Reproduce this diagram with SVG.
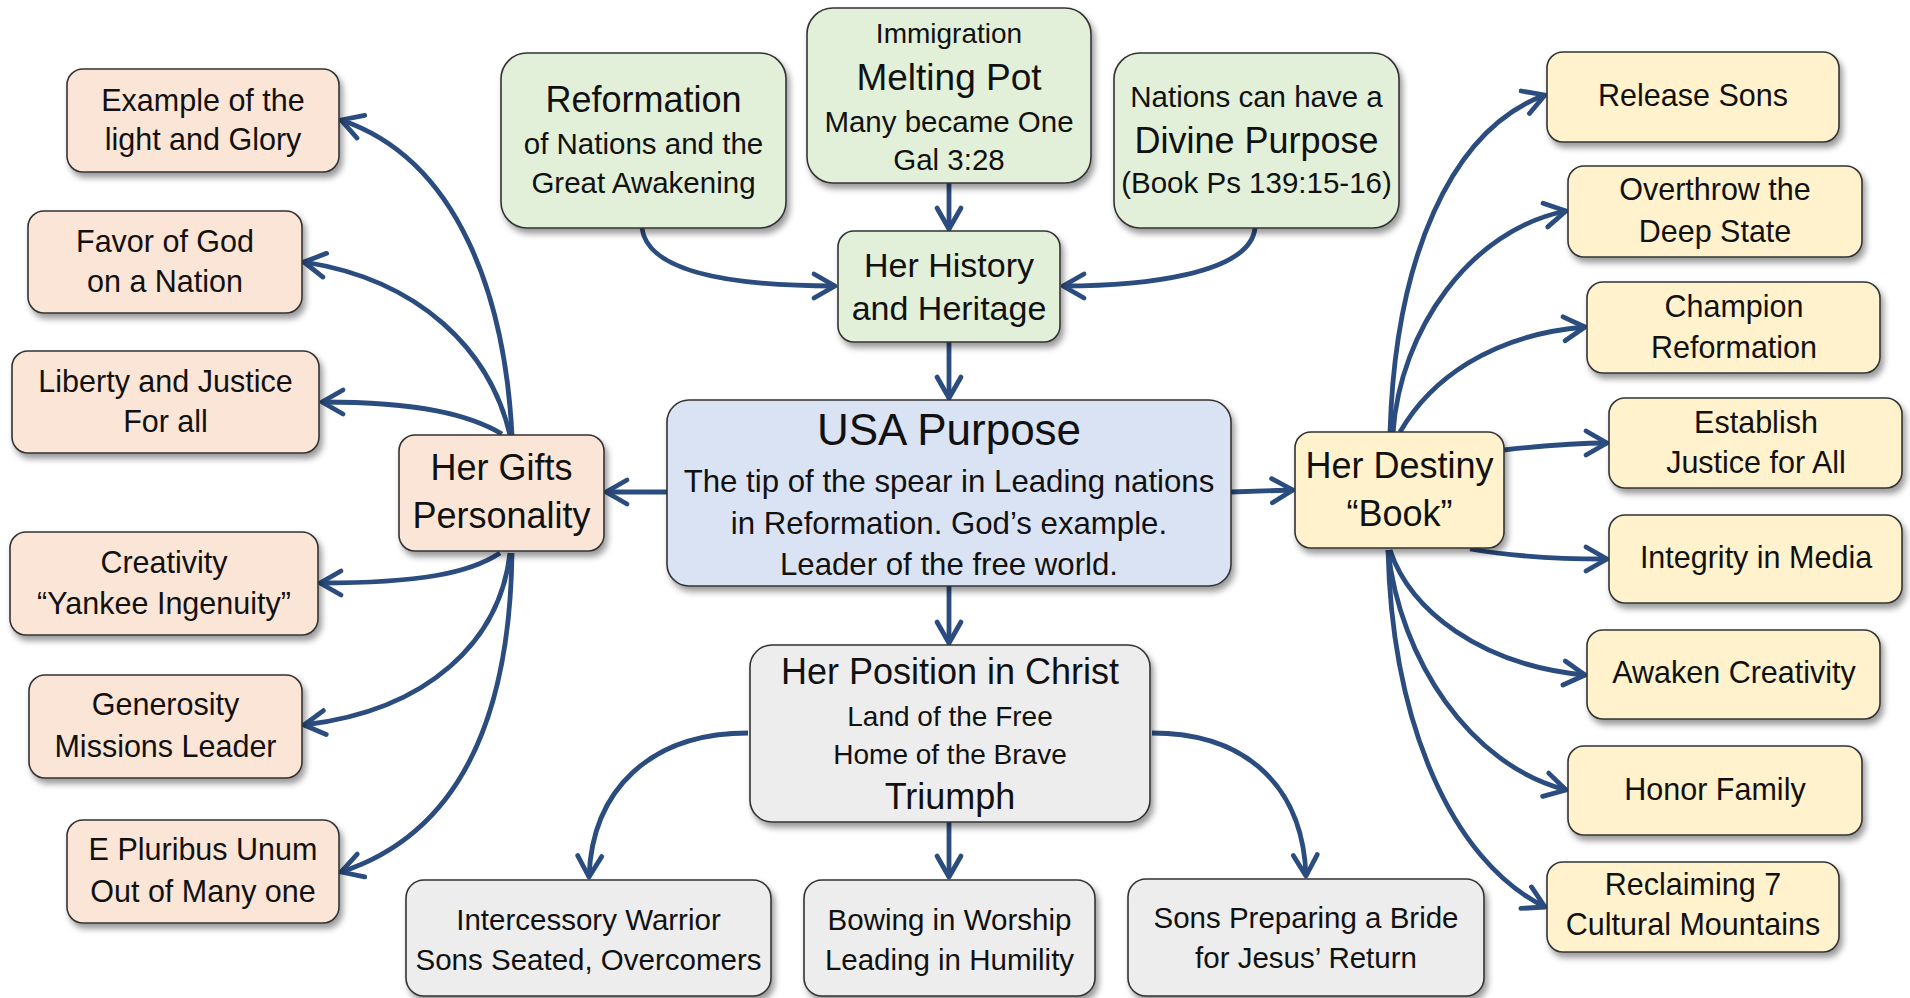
<svg xmlns="http://www.w3.org/2000/svg" width="1910" height="998" viewBox="0 0 1910 998">
<defs>
<filter id="sh" x="-10%" y="-10%" width="125%" height="130%">
<feDropShadow dx="3" dy="5" stdDeviation="3" flood-color="#000" flood-opacity="0.4"/>
</filter>
<marker id="ah" markerUnits="userSpaceOnUse" markerWidth="40" markerHeight="40" viewBox="-30 -20 40 40" refX="0" refY="0" orient="auto">
<path d="M-21,-12 L0,0 L-21,12" fill="none" stroke="#2B4C7E" stroke-width="4.8" stroke-linecap="round" stroke-linejoin="round"/>
</marker>
<style>
.b{stroke:#333;stroke-width:1.6;filter:url(#sh)}
.pe{fill:#FBE5D6}.ye{fill:#FFF2CC}.gr{fill:#E2F0D9}.bl{fill:#DAE3F3}.gy{fill:#EDEDED}
text{font-family:"Liberation Sans",Arial,sans-serif;fill:#111;text-anchor:middle}
.t30{font-size:30.5px}.t29{font-size:29.5px}.t28{font-size:28px}.t31{font-size:31.2px}
.t34{font-size:34px}.t36{font-size:36px}.t37{font-size:37px}.t44{font-size:44px}
#conn path{fill:none;stroke:#2B4C7E;stroke-width:4.8;marker-end:url(#ah)}
</style>
</defs>
<rect width="1910" height="998" fill="#fff"/>
<g id="conn">
<path d="M512,435 C505,300 460,160 341,120"/>
<path d="M510,435 C490,350 420,280 304,262"/>
<path d="M502,434 C470,415 420,402 322,402"/>
<path d="M500,553 C470,573 420,583 320,583"/>
<path d="M510,553 C500,640 430,710 304,725"/>
<path d="M512,553 C510,700 470,830 341,872"/>
<path d="M667,492 L606,492"/>
<path d="M1231,492 L1293,490"/>
<path d="M949,342 L949,398"/>
<path d="M949,183 L949,229"/>
<path d="M642,228 C648,275 740,286 835,286"/>
<path d="M1255,228 C1250,275 1140,286 1063,286"/>
<path d="M949,586 L949,643"/>
<path d="M748,733 C650,733 592,790 589,877"/>
<path d="M949,822 L949,877"/>
<path d="M1152,733 C1250,733 1303,790 1306,876"/>
<path d="M1390,433 C1395,260 1450,130 1545,95"/>
<path d="M1393,433 C1400,330 1470,230 1566,211"/>
<path d="M1400,432 C1430,380 1490,335 1585,327"/>
<path d="M1504,450 C1540,446 1570,443 1607,443"/>
<path d="M1470,549 C1510,556 1560,559 1607,559"/>
<path d="M1390,550 C1410,610 1480,665 1585,675"/>
<path d="M1388,550 C1400,660 1470,765 1566,790"/>
<path d="M1388,550 C1392,720 1450,860 1545,907"/>
</g>
<g id="n-example"><rect class="b pe" x="67" y="69" width="272" height="103" rx="16"/><text class="t30" x="203" y="111">Example of the</text><text class="t30" x="203" y="150">light and Glory</text></g>
<g id="n-favor"><rect class="b pe" x="28" y="211" width="274" height="102" rx="16"/><text class="t30" x="165" y="252">Favor of God</text><text class="t30" x="165" y="292">on a Nation</text></g>
<g id="n-liberty"><rect class="b pe" x="12" y="351" width="307" height="102" rx="16"/><text class="t30" x="165.5" y="392">Liberty and Justice</text><text class="t30" x="165.5" y="432">For all</text></g>
<g id="n-creativity"><rect class="b pe" x="10" y="532" width="308" height="103" rx="16"/><text class="t30" x="164" y="573">Creativity</text><text class="t30" x="164" y="614">“Yankee Ingenuity”</text></g>
<g id="n-generosity"><rect class="b pe" x="29" y="675" width="273" height="103" rx="16"/><text class="t30" x="165.5" y="715">Generosity</text><text class="t30" x="165.5" y="757">Missions Leader</text></g>
<g id="n-pluribus"><rect class="b pe" x="67" y="820" width="272" height="103" rx="16"/><text class="t30" x="203" y="860">E Pluribus Unum</text><text class="t30" x="203" y="902">Out of Many one</text></g>
<g id="n-gifts"><rect class="b pe" x="399" y="435" width="205" height="116" rx="16"/><text class="t36" x="501.5" y="480">Her Gifts</text><text class="t36" x="501.5" y="528">Personality</text></g>
<g id="n-reformation"><rect class="b gr" x="501" y="53" width="285" height="175" rx="26"/><text class="t36" x="643.5" y="112">Reformation</text><text class="t29" x="643.5" y="154">of Nations and the</text><text class="t29" x="643.5" y="193">Great Awakening</text></g>
<g id="n-melting"><rect class="b gr" x="807" y="8" width="284" height="175" rx="26"/><text class="t28" x="949" y="43">Immigration</text><text class="t37" x="949" y="90">Melting Pot</text><text class="t29" x="949" y="132">Many became One</text><text class="t29" x="949" y="170">Gal 3:28</text></g>
<g id="n-nations"><rect class="b gr" x="1114" y="53" width="285" height="175" rx="26"/><text class="t29" x="1256.5" y="107">Nations can have a</text><text class="t36" x="1256.5" y="153">Divine Purpose</text><text class="t29" x="1256.5" y="193">(Book Ps 139:15-16)</text></g>
<g id="n-history"><rect class="b gr" x="838" y="231" width="222" height="111" rx="16"/><text class="t34" x="949" y="277">Her History</text><text class="t34" x="949" y="320">and Heritage</text></g>
<g id="n-usa"><rect class="b bl" x="667" y="400" width="564" height="186" rx="22"/><text class="t44" x="949" y="445">USA Purpose</text><text class="t31" x="949" y="492">The tip of the spear in Leading nations</text><text class="t31" x="949" y="534">in Reformation. God’s example.</text><text class="t31" x="949" y="575">Leader of the free world.</text></g>
<g id="n-destiny"><rect class="b ye" x="1295" y="432" width="209" height="116" rx="16"/><text class="t36" x="1399.5" y="478">Her Destiny</text><text class="t36" x="1399.5" y="526">“Book”</text></g>
<g id="n-position"><rect class="b gy" x="750" y="645" width="400" height="177" rx="22"/><text class="t36" x="950" y="684">Her Position in Christ</text><text class="t28" x="950" y="726">Land of the Free</text><text class="t28" x="950" y="764">Home of the Brave</text><text class="t36" x="950" y="809">Triumph</text></g>
<g id="n-intercessory"><rect class="b gy" x="406" y="880" width="365" height="116" rx="18"/><text class="t29" x="588.5" y="930">Intercessory Warrior</text><text class="t29" x="588.5" y="970">Sons Seated, Overcomers</text></g>
<g id="n-bowing"><rect class="b gy" x="804" y="880" width="291" height="116" rx="18"/><text class="t29" x="949.5" y="930">Bowing in Worship</text><text class="t29" x="949.5" y="970">Leading in Humility</text></g>
<g id="n-sons"><rect class="b gy" x="1128" y="879" width="356" height="117" rx="18"/><text class="t29" x="1306" y="928">Sons Preparing a Bride</text><text class="t29" x="1306" y="968">for Jesus’ Return</text></g>
<g id="n-release"><rect class="b ye" x="1547" y="52" width="292" height="90" rx="16"/><text class="t30" x="1693" y="106">Release Sons</text></g>
<g id="n-overthrow"><rect class="b ye" x="1568" y="166" width="294" height="91" rx="16"/><text class="t30" x="1715" y="200">Overthrow the</text><text class="t30" x="1715" y="242">Deep State</text></g>
<g id="n-champion"><rect class="b ye" x="1587" y="282" width="293" height="91" rx="16"/><text class="t30" x="1734" y="317">Champion</text><text class="t30" x="1734" y="358">Reformation</text></g>
<g id="n-establish"><rect class="b ye" x="1609" y="398" width="293" height="90" rx="16"/><text class="t30" x="1756" y="433">Establish</text><text class="t30" x="1756" y="473">Justice for All</text></g>
<g id="n-integrity"><rect class="b ye" x="1609" y="515" width="293" height="88" rx="16"/><text class="t30" x="1756" y="568">Integrity in Media</text></g>
<g id="n-awaken"><rect class="b ye" x="1587" y="630" width="293" height="89" rx="16"/><text class="t30" x="1734" y="683">Awaken Creativity</text></g>
<g id="n-honor"><rect class="b ye" x="1568" y="746" width="294" height="89" rx="16"/><text class="t30" x="1715" y="800">Honor Family</text></g>
<g id="n-reclaiming"><rect class="b ye" x="1547" y="862" width="292" height="90" rx="16"/><text class="t30" x="1693" y="895">Reclaiming 7</text><text class="t30" x="1693" y="935">Cultural Mountains</text></g>
</svg>
